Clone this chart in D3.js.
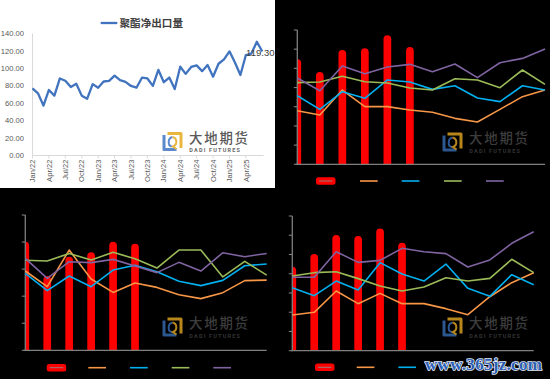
<!DOCTYPE html>
<html><head><meta charset="utf-8">
<script src="https://cdn.jsdelivr.net/npm/d3@7/dist/d3.min.js"></script>
<style>
html,body{margin:0;padding:0;background:#000;}
svg{display:block;}
</style></head>
<body>
<svg id="c" width="550" height="379"></svg>
<script>
// ---------- DATA ----------
// Top-left: 聚酯净出口量 (monthly)
const months = ["Jan/22","Feb/22","Mar/22","Apr/22","May/22","Jun/22","Jul/22","Aug/22","Sep/22","Oct/22","Nov/22","Dec/22",
  "Jan/23","Feb/23","Mar/23","Apr/23","May/23","Jun/23","Jul/23","Aug/23","Sep/23","Oct/23","Nov/23","Dec/23",
  "Jan/24","Feb/24","Mar/24","Apr/24","May/24","Jun/24","Jul/24","Aug/24","Sep/24","Oct/24","Nov/24","Dec/24",
  "Jan/25","Feb/25","Mar/25","Apr/25","May/25","Jun/25","Jul/25"];
const netExport = [77.1,71.4,57.2,75.2,68.7,88.4,85.8,78.5,82.3,68.7,65.2,81.9,
  77.8,84.9,85.6,91.6,86.4,84.5,79.8,77.8,89.3,88.4,79.9,98.3,
  84.1,89.5,76.2,101.9,93.7,101.6,103.4,96.8,103.8,90.3,105.3,110.4,
  119.5,106.7,92.4,115.3,116.9,130.5,119.3];
const yTicksTL = [0,20,40,60,80,100,120,140];
const legendTL = "聚酯净出口量";
const lastLabel = "119.30";

// Dark panels: 12 months each
const monthsDark = ["1月","2月","3月","4月","5月","6月","7月","8月","9月","10月","11月","12月"];

// Top-right panel
const trBars   = [109.4,96.2,119.1,120.9,134.4,122.3];
const trOrange = [55.9,51.4,77.4,60.1,60.1,56.6,54.2,47.9,44.1,57.3,70.5,77.4];
const trBlue   = [71.5,57.3,75.7,68.8,87.9,85.8,78.1,81.9,69.1,65.3,81.9,77.4];
const trGreen  = [85.1,85.8,91.7,86.1,84.7,79.5,77.4,89.2,87.9,79.9,98.3,83.3];
const trPurple = [89.9,76.7,102.4,94.5,101.4,104.2,96.5,104.5,90.3,105.9,110.4,120.2];
const trTicks  = [0,20,40,60,80,100,120,140];

// Bottom-left panel
const blBars   = [80.3,54.9,69.2,72.4,80.3,78.8];
const blOrange = [58.6,47.0,74.1,52.7,42.8,49.8,46.5,41.1,38.2,42.6,51.5,51.9];
const blBlue   = [56.9,44.1,54.9,47.0,59.3,62.8,58.1,51.0,47.8,51.7,62.5,63.8];
const blGreen  = [66.5,66.0,71.6,66.7,72.4,67.7,60.8,74.1,74.1,54.2,65.7,55.6];
const blPurple = [67.9,53.2,65.5,64.8,67.2,62.3,57.4,65.0,58.6,72.1,69.2,71.6];
const blTicks  = [0,20,40,60,80,100];

// Bottom-right panel
const brBars   = [87.3,100.5,120.3,119.2,126.9,112.3];
const brOrange = [37.1,39.9,62.0,48.9,59.6,48.9,48.9,43.7,37.4,56.1,70.7,81.1];
const brBlue   = [65.5,57.2,72.4,63.1,91.5,79.7,72.4,90.1,64.8,56.5,79.0,68.6];
const brGreen  = [77.6,81.1,82.1,74.9,67.2,62.0,66.2,75.9,72.4,75.2,95.0,81.1];
const brPurple = [76.3,76.3,102.9,91.8,93.9,106.4,102.9,100.9,87.0,94.3,111.6,123.7];
const brTicks  = [0,20,40,60,80,100,120,140];

const watermarkText = "www.365jz.com";
const logoCN = "大地期货";
const logoEN = "DADI FUTURES";

// ---------- DRAW ----------
const svg = d3.select("#c");
svg.append("rect").attr("x",0).attr("y",0).attr("width",550).attr("height",379).attr("fill","#000");

function drawLogo(g, x, y, dark){
  const gold = dark ? "#b8871c" : "#e9b73f";
  const blue = dark ? "#2c578f" : "#5b89cc";
  const txt  = dark ? "#3d3d3d" : "#595959";
  const sub  = dark ? "#333333" : "#6a6a6a";
  const L = g.append("g").attr("transform",`translate(${x},${y})`);
  // blue bracket (left + bottom)
  L.append("path").attr("d","M2.5,4 L2.5,18.5 L15,18.5").attr("fill","none").attr("stroke",blue).attr("stroke-width",3).attr("stroke-linejoin","round");
  // gold bracket (top + right)
  L.append("path").attr("d","M6,2.5 L19.5,2.5 L19.5,17").attr("fill","none").attr("stroke",gold).attr("stroke-width",3).attr("stroke-linejoin","round");
  // inner swirl
  L.append("path").attr("d","M11,6 C6,7 6,15 10.5,15.5").attr("fill","none").attr("stroke",blue).attr("stroke-width",2);
  L.append("path").attr("d","M11,6 C16,7 16,14 11.5,15.5 L15,18").attr("fill","none").attr("stroke",gold).attr("stroke-width",2);
  L.append("text").attr("x",27.5).attr("y",11.8).attr("font-family","'Noto Sans CJK SC'").attr("font-weight",500)
    .attr("font-size",13.4).attr("letter-spacing",1.8).attr("fill",txt).text(logoCN);
  L.append("text").attr("x",27.8).attr("y",21).attr("font-family","Roboto, 'DejaVu Sans'").attr("font-weight",700)
    .attr("font-size",5.5).attr("letter-spacing",1.2).attr("fill",sub).text(logoEN);
}

// ===== Top-left white chart =====
svg.append("rect").attr("x",0).attr("y",0).attr("width",275).attr("height",188).attr("fill","#fff");
const gTL = svg.append("g");
const xTL = d3.scalePoint().domain(months).range([32.5, 262.3]);
const yTL = d3.scaleLinear().domain([0,140]).range([155.5, 33.5]);

drawLogo(gTL, 161.5, 131, false);

// axes
gTL.append("line").attr("x1",32.5).attr("x2",32.5).attr("y1",yTL(140)).attr("y2",yTL(0)).attr("stroke","#d9d9d9").attr("stroke-width",1);
gTL.append("line").attr("x1",32.5).attr("x2",263.5).attr("y1",yTL(0)).attr("y2",yTL(0)).attr("stroke","#d9d9d9").attr("stroke-width",1);
gTL.selectAll("text.yt").data(yTicksTL).enter().append("text")
  .attr("x",24).attr("y",d=>yTL(d)).attr("dy","0.35em").attr("text-anchor","end")
  .attr("font-family","'Liberation Sans', Arial").attr("font-size",7.6).attr("fill","#595959")
  .text(d=>d.toFixed(2));
const tickMonths = months.filter((m,i)=> i%3===0 && i<=39);
gTL.selectAll("line.xt").data(tickMonths).enter().append("line")
  .attr("x1",d=>xTL(d)).attr("x2",d=>xTL(d)).attr("y1",yTL(0)).attr("y2",yTL(0)+3)
  .attr("stroke","#d9d9d9").attr("stroke-width",1);
gTL.selectAll("text.xt").data(tickMonths).enter().append("text")
  .attr("transform",d=>`translate(${xTL(d)},159.5) rotate(-90)`).attr("dy","0.35em").attr("text-anchor","end")
  .attr("font-family","'Liberation Sans', Arial").attr("font-size",7.6).attr("fill","#595959")
  .text(d=>d);
// line
gTL.append("path").datum(netExport.map((v,i)=>[months[i],v]))
  .attr("d", d3.line().x(d=>xTL(d[0])).y(d=>yTL(d[1])))
  .attr("fill","none").attr("stroke","#4173be").attr("stroke-width",2.3).attr("stroke-linejoin","round");
// last label
gTL.append("text").attr("x",xTL(months[months.length-1])-2).attr("y",yTL(netExport[netExport.length-1])+1)
  .attr("dy","0.35em").attr("text-anchor","middle").attr("font-family","'Liberation Sans', Arial")
  .attr("font-size",9.5).attr("fill","#404040").text(lastLabel);
// legend
gTL.append("line").attr("x1",100.7).attr("x2",117.3).attr("y1",23).attr("y2",23).attr("stroke","#4173be").attr("stroke-width",2.3);
gTL.append("text").attr("x",119.5).attr("y",23).attr("dy","0.36em")
  .attr("font-family","'Noto Sans CJK SC'").attr("font-weight",700).attr("font-size",10.6).attr("fill","#404040").text(legendTL);

// ===== Dark panels =====
const colors = {orange:"#f79646", blue:"#00b0f0", green:"#9bbb59", purple:"#8064a2", red:"#ff0000"};
const panels = [
  {id:"tr", x0:297.3, x1:545, top:30, bottom:164.3, max:140, ticks:trTicks, bars:trBars,
   lines:[["orange",trOrange],["blue",trBlue],["green",trGreen],["purple",trPurple]],
   legY:181, legX:[316,360,401.7,444,486], logo:[441.5,131.5]},
  {id:"bl", x0:25.3, x1:266.7, top:215, bottom:350.3, max:100, ticks:blTicks, bars:blBars,
   lines:[["orange",blOrange],["blue",blBlue],["green",blGreen],["purple",blPurple]],
   legY:367.7, legX:[46.7,88.3,130,171.7,213.3], logo:[161.5,316.5]},
  {id:"br", x0:292.3, x1:533.7, top:216, bottom:350.7, max:140, ticks:brTicks, bars:brBars,
   lines:[["orange",brOrange],["blue",brBlue],["green",brGreen],["purple",brPurple]],
   legY:367.3, legX:[315,356.7,398.3,440,481.7], logo:[441.5,316.5]}
];

function barPath(x,w,yTop,yBase){
  const r = Math.min(w/2, (yBase-yTop));
  return `M${x},${yBase} V${yTop+r} A${r},${r} 0 0 1 ${x+w},${yTop+r} V${yBase} Z`;
}

panels.forEach(p=>{
  const g = svg.append("g");
  const x = d3.scalePoint().domain(monthsDark).range([p.x0, p.x1]);
  const y = d3.scaleLinear().domain([0,p.max]).range([p.bottom, p.top]);
  const clipId = "clip-"+p.id;
  svg.append("clipPath").attr("id",clipId).append("rect")
    .attr("x",p.x0).attr("y",p.top-10).attr("width",p.x1-p.x0+5).attr("height",p.bottom-p.top+10);

  drawLogo(g, p.logo[0], p.logo[1], true);

  const bw = 7.7;
  g.append("g").attr("clip-path",`url(#${clipId})`).selectAll("path").data(p.bars).enter().append("path")
    .attr("d",(d,i)=>barPath(x(monthsDark[i])-bw/2, bw, y(d), y(0)))
    .attr("fill",colors.red);

  // axes
  g.append("line").attr("x1",p.x0).attr("x2",p.x0).attr("y1",p.top).attr("y2",p.bottom).attr("stroke","#7f7f7f").attr("stroke-width",1.3);
  g.selectAll("line.t").data(p.ticks).enter().append("line")
    .attr("x1",p.x0-3.5).attr("x2",p.x0).attr("y1",d=>y(d)).attr("y2",d=>y(d)).attr("stroke","#7f7f7f").attr("stroke-width",1.1);
  g.append("line").attr("x1",p.x0-1.3).attr("x2",p.x1).attr("y1",p.bottom).attr("y2",p.bottom).attr("stroke","#7f7f7f").attr("stroke-width",1.3);

  // lines
  const line = d3.line().x((d,i)=>x(monthsDark[i])).y(d=>y(d));
  p.lines.forEach(([c,vals])=>{
    g.append("path").datum(vals).attr("d",line).attr("fill","none")
      .attr("stroke",colors[c]).attr("stroke-width",1.6).attr("stroke-linejoin","round");
  });

  // legend
  g.append("rect").attr("x",p.legX[0]).attr("y",p.legY-3.8).attr("width",19.5).attr("height",7.6).attr("rx",2.5)
    .attr("fill",colors.red);
  g.append("line").attr("x1",p.legX[0]+3).attr("x2",p.legX[0]+16.5).attr("y1",p.legY).attr("y2",p.legY)
    .attr("stroke","#8a8a8a").attr("stroke-width",0.9);
  ["orange","blue","green","purple"].forEach((c,i)=>{
    g.append("line").attr("x1",p.legX[i+1]).attr("x2",p.legX[i+1]+17.7).attr("y1",p.legY).attr("y2",p.legY)
      .attr("stroke",colors[c]).attr("stroke-width",1.6);
  });
});

// site watermark
svg.append("text").attr("x",425).attr("y",370).attr("font-family","'Liberation Serif', 'DejaVu Serif'")
  .attr("font-weight",700).attr("font-size",17).attr("fill","#2b5fb5").attr("stroke","#e8eefa")
  .attr("stroke-width",1.6).attr("paint-order","stroke").attr("letter-spacing",0.3).text(watermarkText);
</script>
</body></html>
